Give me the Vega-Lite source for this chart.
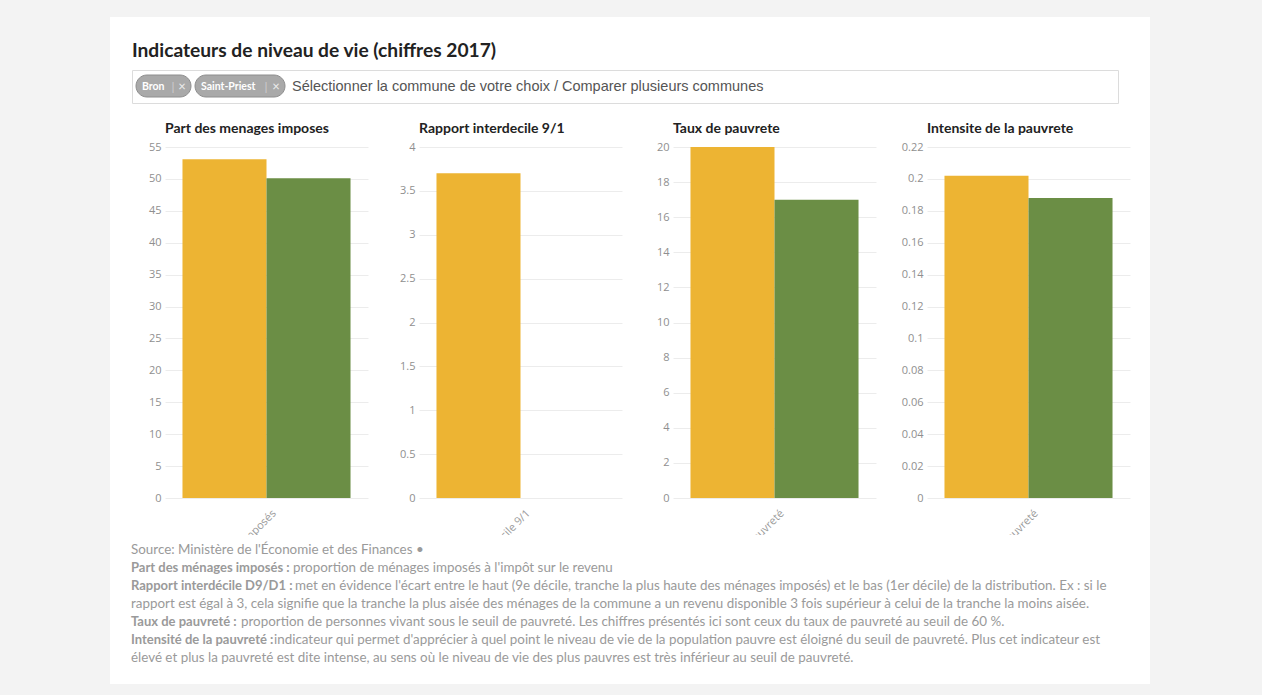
{
  "$schema": "https://vega.github.io/schema/vega-lite/v6.json",
  "background": "white",
  "padding": 0,
  "spacing": 0,
  "datasets": {
    "barres": [
      {"indicateur": "Part des ménages imposés", "commune": "Bron", "valeur": 53.1},
      {"indicateur": "Part des ménages imposés", "commune": "Saint-Priest", "valeur": 50.1},
      {"indicateur": "Rapport interdécile 9/1", "commune": "Bron", "valeur": 3.7},
      {"indicateur": "Taux de pauvreté", "commune": "Bron", "valeur": 20.0},
      {"indicateur": "Taux de pauvreté", "commune": "Saint-Priest", "valeur": 17.0},
      {"indicateur": "Intensité de la pauvreté", "commune": "Bron", "valeur": 0.202},
      {"indicateur": "Intensité de la pauvreté", "commune": "Saint-Priest", "valeur": 0.188}
    ],
    "notes": [
      {"ligne": 1, "gras": "", "texte": "Source: Ministère de l'Économie et des Finances •"},
      {"ligne": 2, "gras": "Part des ménages imposés :", "texte": "proportion de ménages imposés à l'impôt sur le revenu"},
      {"ligne": 3, "gras": "Rapport interdécile D9/D1 :", "texte": "met en évidence l'écart entre le haut (9e décile, tranche la plus haute des ménages imposés) et le bas (1er décile) de la distribution. Ex : si le"},
      {"ligne": 4, "gras": "", "texte": "rapport est égal à 3, cela signifie que la tranche la plus aisée des ménages de la commune a un revenu disponible 3 fois supérieur à celui de la tranche la moins aisée."},
      {"ligne": 5, "gras": "Taux de pauvreté :", "texte": "proportion de personnes vivant sous le seuil de pauvreté. Les chiffres présentés ici sont ceux du taux de pauvreté au seuil de 60 %."},
      {"ligne": 6, "gras": "Intensité de la pauvreté :", "texte": "indicateur qui permet d'apprécier à quel point le niveau de vie de la population pauvre est éloigné du seuil de pauvreté. Plus cet indicateur est"},
      {"ligne": 7, "gras": "", "texte": "élevé et plus la pauvreté est dite intense, au sens où le niveau de vie des plus pauvres est très inférieur au seuil de pauvreté."}
    ]
  },
  "hconcat": [
    {"width": 110, "height": 695, "data": {"values": []}, "mark": "rect", "encoding": {}, "view": {"fill": "#f3f3f3", "stroke": null}},
    {
      "spacing": 0,
      "vconcat": [
        {"width": 1040, "height": 17, "data": {"values": []}, "mark": "rect", "encoding": {}, "view": {"fill": "#f3f3f3", "stroke": null}},
        {"width": 1040, "height": 24, "data": {"values": []}, "mark": "rect", "encoding": {}},
        {
          "spacing": 0,
          "hconcat": [
            {"width": 21, "height": 33, "data": {"values": []}, "mark": "rect", "encoding": {}},
            {
              "width": 986,
              "height": 33,
              "view": {"stroke": "#dcdcdc", "fill": "white"},
              "title": {"text": "Indicateurs de niveau de vie (chiffres 2017)", "anchor": "start", "frame": "group", "font": "Lato", "fontSize": 19.2, "fontWeight": "bold", "color": "#222222", "baseline": "bottom", "offset": -10},
              "data": {"values": [{}]},
              "layer": [
                {"mark": {"type": "rect", "cornerRadius": 11, "fill": "#a9a9a9", "stroke": "#8e8e8e"},
                 "encoding": {
                   "x": {"datum": 4, "type": "quantitative", "scale": {"domain": [0, 986], "nice": false, "zero": false}, "axis": null},
                   "x2": {"datum": 59},
                   "y": {"datum": 5, "type": "quantitative", "scale": {"domain": [0, 33], "nice": false, "zero": false, "reverse": true}, "axis": null},
                   "y2": {"datum": 27}}},
                {"mark": {"type": "rect", "cornerRadius": 11, "fill": "#a9a9a9", "stroke": "#8e8e8e"},
                 "encoding": {"x": {"datum": 63, "type": "quantitative"}, "x2": {"datum": 153}, "y": {"datum": 5, "type": "quantitative"}, "y2": {"datum": 27}}},
                {"mark": {"type": "text", "text": "Bron", "align": "left", "baseline": "middle", "font": "Lato", "fontSize": 10.5, "fontWeight": "bold", "color": "white"},
                 "encoding": {"x": {"datum": 10, "type": "quantitative"}, "y": {"datum": 16.5, "type": "quantitative"}}},
                {"mark": {"type": "text", "text": "Saint-Priest", "align": "left", "baseline": "middle", "font": "Lato", "fontSize": 10.5, "fontWeight": "bold", "color": "white"},
                 "encoding": {"x": {"datum": 69, "type": "quantitative"}, "y": {"datum": 16.5, "type": "quantitative"}}},
                {"mark": {"type": "text", "text": "|", "align": "center", "baseline": "middle", "font": "Lato", "fontSize": 12, "color": "#cfcfcf"},
                 "encoding": {"x": {"datum": 41, "type": "quantitative"}, "y": {"datum": 16.5, "type": "quantitative"}}},
                {"mark": {"type": "text", "text": "|", "align": "center", "baseline": "middle", "font": "Lato", "fontSize": 12, "color": "#cfcfcf"},
                 "encoding": {"x": {"datum": 134, "type": "quantitative"}, "y": {"datum": 16.5, "type": "quantitative"}}},
                {"mark": {"type": "text", "text": "×", "align": "center", "baseline": "middle", "font": "Lato", "fontSize": 13, "color": "#eeeeee"},
                 "encoding": {"x": {"datum": 50, "type": "quantitative"}, "y": {"datum": 16.5, "type": "quantitative"}}},
                {"mark": {"type": "text", "text": "×", "align": "center", "baseline": "middle", "font": "Lato", "fontSize": 13, "color": "#eeeeee"},
                 "encoding": {"x": {"datum": 144, "type": "quantitative"}, "y": {"datum": 16.5, "type": "quantitative"}}},
                {"mark": {"type": "text", "text": "Sélectionner la commune de votre choix / Comparer plusieurs communes", "align": "left", "baseline": "middle", "font": "Liberation Sans", "fontSize": 14.5, "color": "#555555"},
                 "encoding": {"x": {"datum": 160, "type": "quantitative"}, "y": {"datum": 16.5, "type": "quantitative"}}}
              ]
            }
          ]
        },
        {"width": 1040, "height": 18, "data": {"values": []}, "mark": "rect", "encoding": {}},
        {
          "spacing": 51,
          "bounds": "flush",
          "hconcat": [
            {"width": 4, "height": 388, "data": {"values": []}, "mark": "rect", "encoding": {}},
            {
              "width": 203, "height": 388,
              "title": {"text": "Part des menages imposes", "anchor": "start", "frame": "group", "font": "Lato", "fontSize": 14, "fontWeight": "bold", "color": "#222222", "baseline": "bottom", "offset": -9},
              "data": {"name": "barres"},
              "transform": [{"filter": "datum.indicateur === 'Part des ménages imposés'"}],
              "layer": [
                {"mark": {"type": "bar"},
                 "encoding": {
                   "x": {"field": "indicateur", "type": "nominal", "axis": null, "scale": {"paddingInner": 0, "paddingOuter": 0.104}},
                   "xOffset": {"field": "commune", "type": "nominal", "scale": {"domain": ["Bron", "Saint-Priest"], "paddingInner": 0, "paddingOuter": 0}},
                   "y": {"field": "valeur", "type": "quantitative", "scale": {"domain": [0, 55], "nice": false, "range": [351, 0]}, "axis": {"title": null, "values": [0, 5, 10, 15, 20, 25, 30, 35, 40, 45, 50, 55], "tickCount": 30, "format": "~g"}},
                   "color": {"field": "commune", "type": "nominal", "scale": {"domain": ["Bron", "Saint-Priest"], "range": ["#edb433", "#6b8e45"]}, "legend": null}}},
                {"transform": [{"aggregate": [{"op": "count", "as": "n"}], "groupby": ["indicateur"]}],
                 "mark": {"type": "text", "angle": 315, "align": "right", "baseline": "middle", "clip": true, "xOffset": 8, "yOffset": 14, "font": "Open Sans", "fontSize": 11, "color": "#9a9a9a"},
                 "encoding": {"x": {"field": "indicateur", "type": "nominal"}, "y": {"datum": 0, "type": "quantitative"}, "text": {"field": "indicateur"}}}
              ]
            },
            {
              "width": 203, "height": 388,
              "title": {"text": "Rapport interdecile 9/1", "anchor": "start", "frame": "group", "font": "Lato", "fontSize": 14, "fontWeight": "bold", "color": "#222222", "baseline": "bottom", "offset": -9},
              "data": {"name": "barres"},
              "transform": [{"filter": "datum.indicateur === 'Rapport interdécile 9/1'"}],
              "layer": [
                {"mark": {"type": "bar"},
                 "encoding": {
                   "x": {"field": "indicateur", "type": "nominal", "axis": null, "scale": {"paddingInner": 0, "paddingOuter": 0.104}},
                   "xOffset": {"field": "commune", "type": "nominal", "scale": {"domain": ["Bron", "Saint-Priest"], "paddingInner": 0, "paddingOuter": 0}},
                   "y": {"field": "valeur", "type": "quantitative", "scale": {"domain": [0, 4], "nice": false, "range": [351, 0]}, "axis": {"title": null, "values": [0, 0.5, 1, 1.5, 2, 2.5, 3, 3.5, 4], "tickCount": 30, "format": "~g"}},
                   "color": {"field": "commune", "type": "nominal", "scale": {"domain": ["Bron", "Saint-Priest"], "range": ["#edb433", "#6b8e45"]}, "legend": null}}},
                {"transform": [{"aggregate": [{"op": "count", "as": "n"}], "groupby": ["indicateur"]}],
                 "mark": {"type": "text", "angle": 315, "align": "right", "baseline": "middle", "clip": true, "xOffset": 8, "yOffset": 14, "font": "Open Sans", "fontSize": 11, "color": "#9a9a9a"},
                 "encoding": {"x": {"field": "indicateur", "type": "nominal"}, "y": {"datum": 0, "type": "quantitative"}, "text": {"field": "indicateur"}}}
              ]
            },
            {
              "width": 203, "height": 388,
              "title": {"text": "Taux de pauvrete", "anchor": "start", "frame": "group", "font": "Lato", "fontSize": 14, "fontWeight": "bold", "color": "#222222", "baseline": "bottom", "offset": -9},
              "data": {"name": "barres"},
              "transform": [{"filter": "datum.indicateur === 'Taux de pauvreté'"}],
              "layer": [
                {"mark": {"type": "bar"},
                 "encoding": {
                   "x": {"field": "indicateur", "type": "nominal", "axis": null, "scale": {"paddingInner": 0, "paddingOuter": 0.104}},
                   "xOffset": {"field": "commune", "type": "nominal", "scale": {"domain": ["Bron", "Saint-Priest"], "paddingInner": 0, "paddingOuter": 0}},
                   "y": {"field": "valeur", "type": "quantitative", "scale": {"domain": [0, 20], "nice": false, "range": [351, 0]}, "axis": {"title": null, "values": [0, 2, 4, 6, 8, 10, 12, 14, 16, 18, 20], "tickCount": 30, "format": "~g"}},
                   "color": {"field": "commune", "type": "nominal", "scale": {"domain": ["Bron", "Saint-Priest"], "range": ["#edb433", "#6b8e45"]}, "legend": null}}},
                {"transform": [{"aggregate": [{"op": "count", "as": "n"}], "groupby": ["indicateur"]}],
                 "mark": {"type": "text", "angle": 315, "align": "right", "baseline": "middle", "clip": true, "xOffset": 8, "yOffset": 14, "font": "Open Sans", "fontSize": 11, "color": "#9a9a9a"},
                 "encoding": {"x": {"field": "indicateur", "type": "nominal"}, "y": {"datum": 0, "type": "quantitative"}, "text": {"field": "indicateur"}}}
              ]
            },
            {
              "width": 203, "height": 388,
              "title": {"text": "Intensite de la pauvrete", "anchor": "start", "frame": "group", "font": "Lato", "fontSize": 14, "fontWeight": "bold", "color": "#222222", "baseline": "bottom", "offset": -9},
              "data": {"name": "barres"},
              "transform": [{"filter": "datum.indicateur === 'Intensité de la pauvreté'"}],
              "layer": [
                {"mark": {"type": "bar"},
                 "encoding": {
                   "x": {"field": "indicateur", "type": "nominal", "axis": null, "scale": {"paddingInner": 0, "paddingOuter": 0.104}},
                   "xOffset": {"field": "commune", "type": "nominal", "scale": {"domain": ["Bron", "Saint-Priest"], "paddingInner": 0, "paddingOuter": 0}},
                   "y": {"field": "valeur", "type": "quantitative", "scale": {"domain": [0, 0.22], "nice": false, "range": [351, 0]}, "axis": {"title": null, "values": [0, 0.02, 0.04, 0.06, 0.08, 0.1, 0.12, 0.14, 0.16, 0.18, 0.2, 0.22], "tickCount": 30, "format": "~g"}},
                   "color": {"field": "commune", "type": "nominal", "scale": {"domain": ["Bron", "Saint-Priest"], "range": ["#edb433", "#6b8e45"]}, "legend": null}}},
                {"transform": [{"aggregate": [{"op": "count", "as": "n"}], "groupby": ["indicateur"]}],
                 "mark": {"type": "text", "angle": 315, "align": "right", "baseline": "middle", "clip": true, "xOffset": 8, "yOffset": 14, "font": "Open Sans", "fontSize": 11, "color": "#9a9a9a"},
                 "encoding": {"x": {"field": "indicateur", "type": "nominal"}, "y": {"datum": 0, "type": "quantitative"}, "text": {"field": "indicateur"}}}
              ]
            }
          ]
        },
        {
          "spacing": 0,
          "hconcat": [
            {"width": 21, "height": 149, "data": {"values": []}, "mark": "rect", "encoding": {}},
            {
              "width": 998, "height": 149,
              "data": {"name": "notes"},
              "encoding": {"y": {"field": "ligne", "type": "ordinal", "axis": null, "scale": {"type": "point", "range": [15, 123], "padding": 0}}},
              "layer": [
                {"mark": {"type": "text", "align": "left", "baseline": "middle", "font": "Lato", "fontSize": 13, "fontWeight": "bold", "color": "#9a9a9a"},
                 "encoding": {"x": {"value": 0}, "text": {"field": "gras"}}},
                {"transform": [{"filter": "datum.ligne === 1 || datum.ligne === 4 || datum.ligne === 7"}],
                 "mark": {"type": "text", "align": "left", "baseline": "middle", "font": "Lato", "fontSize": 13.4, "color": "#9a9a9a"},
                 "encoding": {"x": {"value": 0}, "text": {"field": "texte"}}},
                {"transform": [{"filter": "datum.ligne === 2"}],
                 "mark": {"type": "text", "align": "left", "baseline": "middle", "dx": 162, "font": "Lato", "fontSize": 13.4, "color": "#9a9a9a"},
                 "encoding": {"x": {"value": 0}, "text": {"field": "texte"}}},
                {"transform": [{"filter": "datum.ligne === 3"}],
                 "mark": {"type": "text", "align": "left", "baseline": "middle", "dx": 164, "font": "Lato", "fontSize": 13.4, "color": "#9a9a9a"},
                 "encoding": {"x": {"value": 0}, "text": {"field": "texte"}}},
                {"transform": [{"filter": "datum.ligne === 5"}],
                 "mark": {"type": "text", "align": "left", "baseline": "middle", "dx": 110, "font": "Lato", "fontSize": 13.4, "color": "#9a9a9a"},
                 "encoding": {"x": {"value": 0}, "text": {"field": "texte"}}},
                {"transform": [{"filter": "datum.ligne === 6"}],
                 "mark": {"type": "text", "align": "left", "baseline": "middle", "dx": 143, "font": "Lato", "fontSize": 13.4, "color": "#9a9a9a"},
                 "encoding": {"x": {"value": 0}, "text": {"field": "texte"}}}
              ]
            }
          ]
        },
        {"width": 1040, "height": 11, "data": {"values": []}, "mark": "rect", "encoding": {}, "view": {"fill": "#f3f3f3", "stroke": null}}
      ]
    },
    {"width": 112, "height": 695, "data": {"values": []}, "mark": "rect", "encoding": {}, "view": {"fill": "#f3f3f3", "stroke": null}}
  ],
  "config": {
    "view": {"stroke": null},
    "axis": {"domain": false, "ticks": false, "gridColor": "#ececec", "labelColor": "#8f8f8f", "labelFont": "Open Sans", "labelFontSize": 11, "labelPadding": 4, "labelOverlap": false}
  }
}
